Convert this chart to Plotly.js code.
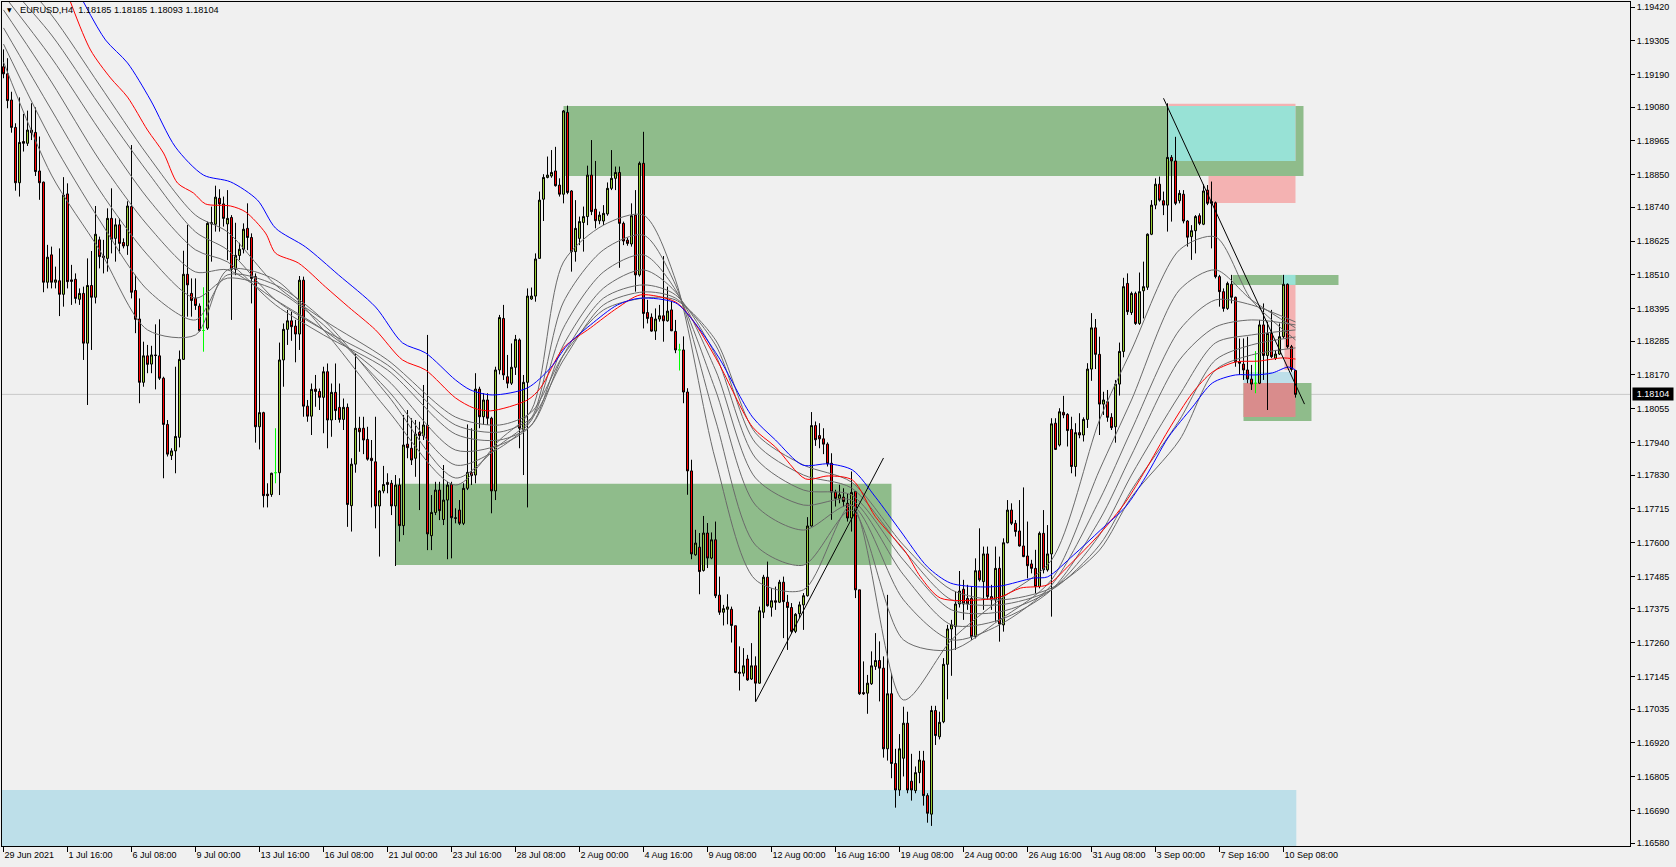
<!DOCTYPE html>
<html><head><meta charset="utf-8">
<script src="https://cdn.plot.ly/plotly-3.0.1.min.js"></script>
<style>html,body{margin:0;padding:0;background:#f0f0f0;overflow:hidden}#chart{width:1676px;height:867px}</style>
</head><body><div id="chart"></div>
<script>
// ---------- data ----------
const opens = [
1.19217,1.19193,1.19104,1.19011,1.18823,1.18963,1.18957,1.19002,1.18994,1.18863,
1.18825,1.18485,1.18578,1.18485,1.18490,1.18444,1.18785,1.18493,1.18495,1.18427,
1.18447,1.18278,1.18474,1.18434,1.18629,1.18574,1.18566,1.18702,1.18634,1.18680,
1.18620,1.18609,1.18742,1.18457,1.18360,1.18145,1.18235,1.18207,1.18238,1.18235,
1.18159,1.18002,1.17896,1.17912,1.17958,1.18223,1.18512,1.18447,1.18430,1.18404,
1.18321,1.18329,1.18683,1.18682,1.18770,1.18751,1.18683,1.18705,1.18529,1.18576,
1.18597,1.18668,1.18637,1.18504,1.17994,1.18042,1.17765,1.17764,1.17838,1.17838,
1.18221,1.18325,1.18354,1.18336,1.18309,1.18492,1.18064,1.18030,1.18122,1.18114,
1.18094,1.18181,1.18017,1.18111,1.18060,1.18019,1.18060,1.17726,1.17867,1.17989,
1.17989,1.17951,1.17887,1.17875,1.17725,1.17776,1.17805,1.17802,1.17725,1.17796,
1.17658,1.17935,1.17921,1.17887,1.17975,1.17964,1.17999,1.17624,1.17703,1.17779,
1.17679,1.17745,1.17798,1.17685,1.17711,1.17666,1.17785,1.17838,1.17830,1.18122,
1.18028,1.18085,1.18023,1.17776,1.18187,1.18362,1.18164,1.18142,1.18196,1.18289,
1.17985,1.18145,1.18428,1.18438,1.18566,1.18767,1.18841,1.18846,1.18863,1.18815,
1.18784,1.19062,1.18795,1.18589,1.18634,1.18688,1.18708,1.18849,1.18733,1.18694,
1.18693,1.18717,1.18804,1.18838,1.18858,1.18685,1.18628,1.18615,1.18713,1.18510,
1.18889,1.18382,1.18366,1.18319,1.18360,1.18371,1.18354,1.18391,1.18318,1.18255,
1.18255,1.18112,1.17844,1.17559,1.17585,1.17506,1.17633,1.17548,1.17610,1.17422,
1.17364,1.17374,1.17374,1.17318,1.17160,1.17157,1.17205,1.17137,1.17182,1.17123,
1.17364,1.17483,1.17381,1.17403,1.17398,1.17466,1.17398,1.17380,1.17299,1.17359,
1.17389,1.17420,1.17657,1.17998,1.17964,1.17953,1.17935,1.17870,1.17772,1.17751,
1.17755,1.17734,1.17684,1.17774,1.17440,1.17091,1.17089,1.17121,1.17180,1.17200,
1.17174,1.16900,1.17087,1.16850,1.16760,1.16868,1.16987,1.16790,1.16758,1.16819,
1.16859,1.16741,1.16678,1.17030,1.16941,1.16992,1.17187,1.17307,1.17315,1.17392,
1.17442,1.17411,1.17411,1.17281,1.17505,1.17468,1.17562,1.17417,1.17406,1.17513,
1.17321,1.17600,1.17711,1.17666,1.17640,1.17589,1.17555,1.17528,1.17513,1.17451,
1.17632,1.17508,1.17562,1.18006,1.17932,1.18043,1.18036,1.17985,1.17859,1.17974,
1.17966,1.18019,1.18190,1.18330,1.18240,1.18071,1.18079,1.18026,1.17994,1.18139,
1.18250,1.18481,1.18382,1.18447,1.18345,1.18456,1.18468,1.18648,1.18747,1.18818,
1.18762,1.18747,1.18909,1.18897,1.18762,1.18784,1.18693,1.18640,1.18660,1.18711,
1.18682,1.18798,1.18759,1.18755,1.18504,1.18453,1.18396,1.18478,1.18434,1.18215,
1.18207,1.18187,1.18156,1.18142,1.18142,1.18340,1.18236,1.18311,1.18227,1.18241,
1.18300,1.18478,1.18266,1.18185];
const highs = [
1.19276,1.19246,1.19132,1.19025,1.19113,1.19057,1.19068,1.19093,1.19079,1.18980,
1.18827,1.18612,1.18606,1.18538,1.18600,1.18842,1.18821,1.18544,1.18515,1.18464,
1.18470,1.18566,1.18591,1.18744,1.18640,1.18629,1.18736,1.18804,1.18702,1.18702,
1.18634,1.18760,1.18951,1.18510,1.18430,1.18283,1.18272,1.18269,1.18342,1.18359,
1.18164,1.18017,1.17921,1.18198,1.18253,1.18592,1.18680,1.18498,1.18498,1.18413,
1.18468,1.18691,1.18742,1.18813,1.18801,1.18776,1.18798,1.18713,1.18687,1.18619,
1.18685,1.18753,1.18651,1.18515,1.18328,1.18045,1.17802,1.17838,1.17989,1.18280,
1.18345,1.18391,1.18385,1.18357,1.18506,1.18504,1.18085,1.18141,1.18170,1.18124,
1.18198,1.18209,1.18141,1.18209,1.18141,1.18090,1.18073,1.17887,1.18243,1.18028,
1.18028,1.17994,1.17949,1.18028,1.17779,1.17861,1.17836,1.17813,1.17830,1.17819,
1.18034,1.18051,1.18023,1.18017,1.18011,1.18136,1.18306,1.17762,1.17807,1.17807,
1.17864,1.17807,1.17807,1.17717,1.17745,1.17802,1.18002,1.17989,1.18176,1.18130,
1.18108,1.18108,1.18028,1.18198,1.18374,1.18408,1.18238,1.18277,1.18306,1.18294,
1.18170,1.18464,1.18467,1.18583,1.18793,1.18852,1.18912,1.18934,1.18945,1.18838,
1.19070,1.19085,1.18798,1.18764,1.18708,1.18742,1.18881,1.18968,1.18897,1.18725,
1.18747,1.18824,1.18934,1.18878,1.18878,1.18691,1.18636,1.18753,1.18798,1.18895,
1.18996,1.18425,1.18379,1.18396,1.18408,1.18574,1.18470,1.18421,1.18357,1.18276,
1.18301,1.18125,1.17882,1.17644,1.17633,1.17691,1.17667,1.17635,1.17672,1.17485,
1.17389,1.17425,1.17383,1.17318,1.17248,1.17242,1.17219,1.17259,1.17214,1.17383,
1.17491,1.17536,1.17446,1.17451,1.17474,1.17485,1.17423,1.17395,1.17361,1.17400,
1.17429,1.17687,1.18044,1.18012,1.18006,1.17989,1.17941,1.17904,1.17780,1.17797,
1.17785,1.17768,1.17842,1.17774,1.17440,1.17197,1.17151,1.17231,1.17293,1.17265,
1.17214,1.17423,1.17157,1.16900,1.16950,1.17043,1.17026,1.16883,1.16840,1.16893,
1.16893,1.16749,1.17046,1.17046,1.17026,1.17208,1.17321,1.17338,1.17434,1.17504,
1.17474,1.17457,1.17451,1.17547,1.17649,1.17587,1.17587,1.17457,1.17587,1.17553,
1.17615,1.17745,1.17734,1.17677,1.17745,1.17788,1.17672,1.17542,1.17576,1.17638,
1.17711,1.17660,1.18023,1.18023,1.18057,1.18099,1.18040,1.18028,1.18006,1.18040,
1.18026,1.18210,1.18380,1.18360,1.18300,1.18113,1.18119,1.18040,1.18153,1.18280,
1.18500,1.18515,1.18453,1.18453,1.18518,1.18555,1.18651,1.18764,1.18838,1.18844,
1.18793,1.19093,1.18917,1.18979,1.18798,1.18798,1.18696,1.18679,1.18713,1.18719,
1.18818,1.18815,1.18827,1.18759,1.18510,1.18464,1.18487,1.18510,1.18436,1.18294,
1.18294,1.18300,1.18204,1.18251,1.18357,1.18413,1.18351,1.18391,1.18255,1.18345,
1.18510,1.18481,1.18272,1.18185];
const lows = [
1.19178,1.19076,1.18993,1.18796,1.18776,1.18929,1.18948,1.18968,1.18846,1.18765,
1.18451,1.18464,1.18464,1.18464,1.18370,1.18402,1.18464,1.18408,1.18413,1.18408,
1.18221,1.18068,1.18255,1.18413,1.18532,1.18515,1.18521,1.18583,1.18555,1.18583,
1.18600,1.18578,1.18430,1.18312,1.18074,1.18130,1.18176,1.18176,1.18121,1.18153,
1.17819,1.17893,1.17881,1.17836,1.17924,1.18221,1.18368,1.18368,1.18391,1.18317,
1.18249,1.18323,1.18555,1.18657,1.18657,1.18674,1.18560,1.18357,1.18509,1.18560,
1.18583,1.18594,1.18413,1.17940,1.17917,1.17720,1.17720,1.17756,1.17802,1.17762,
1.18130,1.18272,1.18286,1.18213,1.18255,1.18028,1.18011,1.17966,1.18062,1.18051,
1.17972,1.17921,1.17960,1.18017,1.18008,1.17983,1.17654,1.17638,1.17838,1.17909,
1.17901,1.17879,1.17720,1.17649,1.17553,1.17768,1.17768,1.17694,1.17521,1.17604,
1.17626,1.17887,1.17864,1.17824,1.17711,1.17949,1.17575,1.17575,1.17694,1.17677,
1.17660,1.17544,1.17547,1.17666,1.17660,1.17660,1.17779,1.17796,1.17802,1.17989,
1.18000,1.18000,1.17700,1.17745,1.18172,1.18153,1.18125,1.18136,1.18170,1.17921,
1.17830,1.17720,1.18425,1.18419,1.18566,1.18693,1.18838,1.18840,1.18810,1.18776,
1.18753,1.18784,1.18521,1.18555,1.18611,1.18589,1.18679,1.18713,1.18668,1.18682,
1.18679,1.18711,1.18798,1.18798,1.18534,1.18611,1.18609,1.18606,1.18453,1.18504,
1.18328,1.18345,1.18317,1.18289,1.18351,1.18283,1.18351,1.18319,1.18244,1.18185,
1.18074,1.17763,1.17544,1.17556,1.17425,1.17502,1.17514,1.17544,1.17412,1.17355,
1.17319,1.17323,1.17261,1.17157,1.17098,1.17146,1.17131,1.17134,1.17061,1.17121,
1.17344,1.17383,1.17349,1.17372,1.17395,1.17276,1.17236,1.17293,1.17293,1.17344,
1.17304,1.17417,1.17655,1.17929,1.17921,1.17901,1.17859,1.17678,1.17723,1.17734,
1.17723,1.17672,1.17638,1.17412,1.17083,1.17083,1.17019,1.17117,1.17168,1.17061,
1.16870,1.16860,1.16800,1.16700,1.16740,1.16806,1.16749,1.16724,1.16749,1.16783,
1.16707,1.16649,1.16638,1.16913,1.16932,1.16987,1.17068,1.17148,1.17236,1.17380,
1.17338,1.17372,1.17270,1.17275,1.17468,1.17372,1.17406,1.17372,1.17332,1.17264,
1.17298,1.17598,1.17660,1.17621,1.17587,1.17551,1.17479,1.17496,1.17428,1.17445,
1.17496,1.17502,1.17349,1.17915,1.17927,1.18023,1.17927,1.17836,1.17825,1.17955,
1.17944,1.17990,1.18150,1.18190,1.17966,1.18034,1.18011,1.17983,1.17940,1.18100,
1.18230,1.18374,1.18374,1.18340,1.18340,1.18362,1.18459,1.18645,1.18733,1.18759,
1.18713,1.18657,1.18691,1.18747,1.18753,1.18685,1.18606,1.18561,1.18583,1.18679,
1.18679,1.18747,1.18600,1.18498,1.18402,1.18385,1.18391,1.18413,1.18198,1.18170,
1.18153,1.18142,1.18119,1.18108,1.18139,1.18153,1.18051,1.18227,1.18221,1.18238,
1.18294,1.18260,1.18181,1.18093];
const closes = [
1.19193,1.19102,1.19011,1.18823,1.18960,1.18957,1.19002,1.18993,1.18861,1.18823,
1.18485,1.18570,1.18485,1.18493,1.18444,1.18781,1.18487,1.18488,1.18430,1.18447,
1.18278,1.18474,1.18434,1.18648,1.18572,1.18569,1.18702,1.18631,1.18680,1.18617,
1.18608,1.18744,1.18451,1.18359,1.18145,1.18235,1.18206,1.18238,1.18236,1.18159,
1.18002,1.17901,1.17912,1.17961,1.18223,1.18512,1.18476,1.18423,1.18406,1.18321,
1.18321,1.18685,1.18687,1.18774,1.18751,1.18702,1.18702,1.18529,1.18576,1.18597,
1.18665,1.18637,1.18498,1.17994,1.18042,1.17760,1.17760,1.17836,1.17838,1.18221,
1.18325,1.18354,1.18334,1.18309,1.18492,1.18064,1.18030,1.18121,1.18114,1.18094,
1.18181,1.18017,1.18111,1.18049,1.18019,1.18060,1.17730,1.17867,1.17989,1.17977,
1.17949,1.17884,1.17879,1.17725,1.17776,1.17798,1.17798,1.17725,1.17796,1.17658,
1.17932,1.17923,1.17881,1.17969,1.17964,1.18000,1.17630,1.17703,1.17779,1.17709,
1.17745,1.17796,1.17685,1.17683,1.17666,1.17785,1.17839,1.17828,1.18122,1.18028,
1.18085,1.18023,1.17776,1.18187,1.18365,1.18170,1.18142,1.18196,1.18291,1.17989,
1.18145,1.18438,1.18438,1.18564,1.18764,1.18841,1.18849,1.18858,1.18813,1.18784,
1.19067,1.18790,1.18589,1.18668,1.18691,1.18708,1.18849,1.18725,1.18694,1.18713,
1.18719,1.18804,1.18838,1.18858,1.18685,1.18625,1.18617,1.18711,1.18510,1.18889,
1.18379,1.18362,1.18319,1.18360,1.18371,1.18354,1.18387,1.18320,1.18255,1.18255,
1.18112,1.17844,1.17562,1.17599,1.17502,1.17633,1.17548,1.17610,1.17420,1.17364,
1.17376,1.17382,1.17319,1.17159,1.17157,1.17182,1.17134,1.17182,1.17123,1.17369,
1.17483,1.17386,1.17403,1.17398,1.17466,1.17400,1.17380,1.17299,1.17357,1.17389,
1.17420,1.17657,1.17998,1.17950,1.17953,1.17935,1.17868,1.17772,1.17751,1.17763,
1.17740,1.17684,1.17771,1.17440,1.17087,1.17087,1.17123,1.17182,1.17200,1.17174,
1.16900,1.17087,1.16850,1.16760,1.16900,1.16987,1.16760,1.16760,1.16819,1.16862,
1.16741,1.16681,1.17030,1.16945,1.16990,1.17187,1.17307,1.17321,1.17392,1.17436,
1.17392,1.17392,1.17281,1.17505,1.17474,1.17562,1.17417,1.17406,1.17513,1.17324,
1.17600,1.17711,1.17666,1.17638,1.17589,1.17553,1.17522,1.17513,1.17451,1.17632,
1.17508,1.17562,1.18004,1.17917,1.18045,1.18034,1.17981,1.17859,1.17974,1.17966,
1.18019,1.18190,1.18330,1.18240,1.18071,1.18085,1.18026,1.17991,1.18139,1.18250,
1.18470,1.18385,1.18447,1.18345,1.18453,1.18470,1.18648,1.18747,1.18818,1.18764,
1.18747,1.18909,1.18897,1.18753,1.18787,1.18693,1.18638,1.18660,1.18708,1.18685,
1.18795,1.18753,1.18753,1.18504,1.18453,1.18396,1.18481,1.18434,1.18215,1.18210,
1.18187,1.18156,1.18139,1.18142,1.18340,1.18236,1.18311,1.18232,1.18241,1.18300,
1.18478,1.18266,1.18189,1.18104];

const timeTickBars = [0,16,32,48,64,80,96,112,128,144,160,176,192,208,224,240,256,272,288,304,320];
const timeTickLabels = ['29 Jun 2021','1 Jul 16:00','6 Jul 08:00','9 Jul 00:00','13 Jul 16:00','16 Jul 08:00',
 '21 Jul 00:00','23 Jul 16:00','28 Jul 08:00','2 Aug 00:00','4 Aug 16:00','9 Aug 08:00','12 Aug 00:00',
 '16 Aug 16:00','19 Aug 08:00','24 Aug 00:00','26 Aug 16:00','31 Aug 08:00','3 Sep 00:00','7 Sep 16:00','10 Sep 08:00'];
const priceTicks = [1.16580,1.16690,1.16805,1.16920,1.17035,1.17145,1.17260,1.17375,1.17485,1.17600,1.17715,
 1.17830,1.17940,1.18055,1.18170,1.18285,1.18395,1.18510,1.18625,1.18740,1.18850,1.18965,1.19080,1.19190,1.19305,1.19420];

// moving averages (sampled)
const blueBars = [20,25.5,31,36.75,43,50,56.75,63.5,68,75.5,83.75,93,99.75,105.5,113,116.75,122.25,131,136.75,141,146.75,153.5,159.25,168,172.25,178.75,187.25,193,199.75,206.25,212.25,218,224.25,231,236.75,244.25,249.25,257.5,261,267.5,274.25,280.5,285.5,291.25,297.25,302.25,308,313,317.25,321.25,323];
const blueVals = [1.19437,1.19308,1.19230,1.19104,1.18944,1.18849,1.18826,1.18764,1.18669,1.18605,1.18510,1.18401,1.18279,1.18245,1.18153,1.18119,1.18102,1.18126,1.18194,1.18272,1.18340,1.18408,1.18431,1.18415,1.18357,1.18231,1.18027,1.17949,1.17864,1.17868,1.17847,1.17755,1.17640,1.17518,1.17463,1.17450,1.17453,1.17480,1.17484,1.17558,1.17643,1.17722,1.17823,1.17959,1.18061,1.18143,1.18170,1.18170,1.18177,1.18197,1.18187];
const redBars = [16.75,21.75,26.75,31,36,40,43.5,47.5,50.5,56.75,60.5,65.5,68,73.75,80.5,86.25,93,99.75,105.5,113,117.5,121.75,131,134.25,140,146.75,153.5,159.25,168,172.25,178.75,187.25,193,200.5,206.25,212.25,218,225.5,229.25,234.25,244.25,249.25,254.25,261,266,274.25,280.5,285.5,291.25,297.25,302.25,308,313.75,319.75,323];
const redVals = [1.19437,1.19274,1.19179,1.19114,1.19002,1.18924,1.18822,1.18788,1.18751,1.18744,1.18724,1.18652,1.18584,1.18550,1.18469,1.18401,1.18323,1.18221,1.18187,1.18092,1.18058,1.18048,1.18085,1.18126,1.18262,1.18330,1.18398,1.18442,1.18418,1.18357,1.18211,1.17993,1.17925,1.17817,1.17827,1.17813,1.17688,1.17569,1.17484,1.17412,1.17406,1.17416,1.17446,1.17457,1.17518,1.17633,1.17738,1.17847,1.17983,1.18109,1.18180,1.18214,1.18217,1.18228,1.18224];
const greyBars = [0,12,24,36,48,56,68,80,96,113,124,132,140,150,160,168,178,188,200,212,225,237,249,262,274,282,294,303,312,323];
const grey1 = [1.19233,1.18849,1.18595,1.18323,1.18306,1.18527,1.18493,1.18323,1.18051,1.17796,1.17949,1.18051,1.18554,1.18679,1.18713,1.18493,1.17881,1.17474,1.17440,1.17728,1.17066,1.17270,1.17406,1.17541,1.18017,1.18255,1.18595,1.18639,1.18425,1.18289];
const grey2 = [1.19294,1.18968,1.18696,1.18459,1.18357,1.18510,1.18476,1.18357,1.18102,1.17820,1.17932,1.18024,1.18418,1.18595,1.18645,1.18476,1.18017,1.17592,1.17524,1.17711,1.17270,1.17236,1.17338,1.17474,1.17847,1.18085,1.18459,1.18527,1.18425,1.18330];
const grey3 = [1.19349,1.19070,1.18798,1.18578,1.18431,1.18499,1.18459,1.18340,1.18119,1.17864,1.17922,1.18017,1.18330,1.18520,1.18578,1.18459,1.18119,1.17728,1.17643,1.17728,1.17406,1.17270,1.17321,1.17456,1.17745,1.17983,1.18323,1.18425,1.18408,1.18350];
const grey4 = [1.19410,1.19165,1.18900,1.18679,1.18520,1.18527,1.18425,1.18323,1.18153,1.17915,1.17932,1.18000,1.18272,1.18465,1.18527,1.18452,1.18187,1.17820,1.17728,1.17745,1.17491,1.17321,1.17338,1.17440,1.17677,1.17898,1.18221,1.18333,1.18357,1.18340];
const grey5 = [1.19461,1.19247,1.19002,1.18771,1.18595,1.18554,1.18408,1.18306,1.18187,1.17969,1.17949,1.18000,1.18238,1.18431,1.18476,1.18442,1.18238,1.17888,1.17779,1.17762,1.17541,1.17372,1.17365,1.17440,1.17626,1.17830,1.18102,1.18279,1.18306,1.18323];
const grey6 = [1.19512,1.19325,1.19087,1.18860,1.18656,1.18595,1.18425,1.18323,1.18204,1.18000,1.17976,1.18024,1.18221,1.18408,1.18452,1.18431,1.18272,1.17939,1.17830,1.17786,1.17575,1.17406,1.17389,1.17440,1.17592,1.17779,1.18017,1.18221,1.18272,1.18299];
const grey7 = [1.19580,1.19393,1.19155,1.18917,1.18713,1.18656,1.18476,1.18357,1.18221,1.18027,1.18000,1.18044,1.18238,1.18391,1.18431,1.18425,1.18289,1.17973,1.17864,1.17806,1.17592,1.17440,1.17406,1.17446,1.17575,1.17755,1.17949,1.18187,1.18238,1.18262];

// drawn objects (bar positions and price levels)
const zoneStart  = [-1, 98, 140, 291.25, 291.25, 301.25, 307.25, 319.75, 320.25, 310, 310, 310];
const zoneEnd    = [323.2, 222, 325, 323, 323, 323, 333.75, 323, 323, 323, 327, 323];
const zoneTop    = [1.16760,1.17800,1.19084,1.19091,1.19084,1.18846,1.18510,1.18510,1.18476,1.18180,1.18143,1.18143];
const zoneBottom = [1.16500,1.17524,1.18846,1.18897,1.18897,1.18754,1.18476,1.18476,1.18187,1.18143,1.18014,1.18027];
const trendStartBar = [188, 290];
const trendStartPrice = [1.17059, 1.19110];
const trendEndBar = [220, 325.25];
const trendEndPrice = [1.17888, 1.18071];
const lastPrice = 1.18104;
const symbolText = 'EURUSD,H4  1.18185 1.18185 1.18093 1.18104';

// ---------- styles ----------
const W = 1676, H = 867;
const zoneColors = ['#bddfe9','#8fbc8b','#8fbc8b','#f4b2b2','#98e2d6','#f4b2b2','#8fbc8b','#98e2d6','#f4b2b2','#bddfe9','#8fbc8b','#d98c8c'];
const FONT = 'Liberation Sans, Arial, sans-serif';

const idx = opens.map((_, i) => i);
const normal = idx.filter(i => opens[i] !== closes[i]);
const doji = idx.filter(i => opens[i] === closes[i]);
const pick = (a, ids) => ids.map(i => a[i]);

const traces = [];
traces.push({
  type: 'candlestick', x: normal,
  open: pick(opens, normal), high: pick(highs, normal), low: pick(lows, normal), close: pick(closes, normal),
  increasing: {line: {color: '#000000', width: 1}, fillcolor: '#9acd32'},
  decreasing: {line: {color: '#000000', width: 1}, fillcolor: '#ff0000'},
  whiskerwidth: 0, hoverinfo: 'skip', showlegend: false
});
traces.push({
  type: 'candlestick', x: doji,
  open: pick(opens, doji), high: pick(highs, doji), low: pick(lows, doji), close: pick(closes, doji),
  increasing: {line: {color: '#00ff00', width: 1}, fillcolor: '#00ff00'},
  decreasing: {line: {color: '#00ff00', width: 1}, fillcolor: '#00ff00'},
  whiskerwidth: 0, hoverinfo: 'skip', showlegend: false
});
const greys = [grey1, grey2, grey3, grey4, grey5, grey6, grey7];
greys.forEach(g => traces.push({type: 'scatter', mode: 'lines', x: greyBars, y: g,
  line: {color: '#6a6a6a', width: 1, shape: 'spline', smoothing: 0.8}, hoverinfo: 'skip', showlegend: false}));
traces.push({type: 'scatter', mode: 'lines', x: redBars, y: redVals,
  line: {color: '#ff0000', width: 1, shape: 'spline', smoothing: 0.8}, hoverinfo: 'skip', showlegend: false});
traces.push({type: 'scatter', mode: 'lines', x: blueBars, y: blueVals,
  line: {color: '#0000ff', width: 1, shape: 'spline', smoothing: 0.8}, hoverinfo: 'skip', showlegend: false});

const shapes = [];
zoneStart.forEach((s, i) => shapes.push({type: 'rect', xref: 'x', yref: 'y', layer: 'below',
  x0: s, x1: zoneEnd[i], y0: zoneBottom[i], y1: zoneTop[i], fillcolor: zoneColors[i], line: {width: 0}}));
shapes.push({type: 'line', xref: 'paper', yref: 'y', layer: 'below', x0: 2 / W, x1: 1630 / W,
  y0: lastPrice, y1: lastPrice, line: {color: '#c8c8c8', width: 1}});
trendStartBar.forEach((s, i) => shapes.push({type: 'line', xref: 'x', yref: 'y', layer: 'above',
  x0: s, y0: trendStartPrice[i], x1: trendEndBar[i], y1: trendEndPrice[i], line: {color: '#000000', width: 1}}));

const annotations = [
  {xref: 'paper', yref: 'paper', x: 18 / W, y: 1 - 10.5 / H, xanchor: 'left', yanchor: 'middle', showarrow: false,
   text: symbolText, font: {family: FONT, size: 9.2, color: '#000'}},
  {xref: 'paper', yref: 'paper', x: 9.5 / W, y: 1 - 10 / H, xanchor: 'center', yanchor: 'middle', showarrow: false,
   text: '▼', font: {family: 'DejaVu Sans', size: 6, color: '#000'}},
  {xref: 'paper', yref: 'y', x: 1632 / W, y: lastPrice, xanchor: 'left', yanchor: 'middle', showarrow: false,
   text: lastPrice.toFixed(5), bgcolor: '#000000', borderpad: 1, width: 38, height: 10,
   font: {family: FONT, size: 9, color: '#ffffff'}}
];

const layout = {
  width: W, height: H, margin: {l: 0, r: 0, t: 0, b: 0, pad: 0},
  paper_bgcolor: '#f0f0f0', plot_bgcolor: '#f0f0f0', showlegend: false,
  boxgap: 0.5, boxgroupgap: 0,
  xaxis: {domain: [2 / W, 1630 / W], range: [-0.375, 406.625], showgrid: false, zeroline: false,
    showline: true, linecolor: '#000', linewidth: 1, mirror: true,
    ticks: 'outside', ticklen: 5, tickcolor: '#000', tickvals: timeTickBars, ticktext: timeTickLabels,
    ticklabelposition: 'outside right', tickfont: {family: FONT, size: 9, color: '#000'},
    rangeslider: {visible: false}, fixedrange: true},
  yaxis: {domain: [(H - 846) / H, (H - 2) / H], range: [1.165698, 1.194370], side: 'right',
    showgrid: false, zeroline: false, showline: true, linecolor: '#000', linewidth: 1, mirror: true,
    ticks: 'outside', ticklen: 4, tickcolor: '#000', tickvals: priceTicks, tickformat: '.5f',
    tickfont: {family: FONT, size: 9, color: '#000'}, fixedrange: true},
  shapes: shapes, annotations: annotations
};
Plotly.newPlot('chart', traces, layout, {staticPlot: true, displayModeBar: false});
</script>
</body></html>
